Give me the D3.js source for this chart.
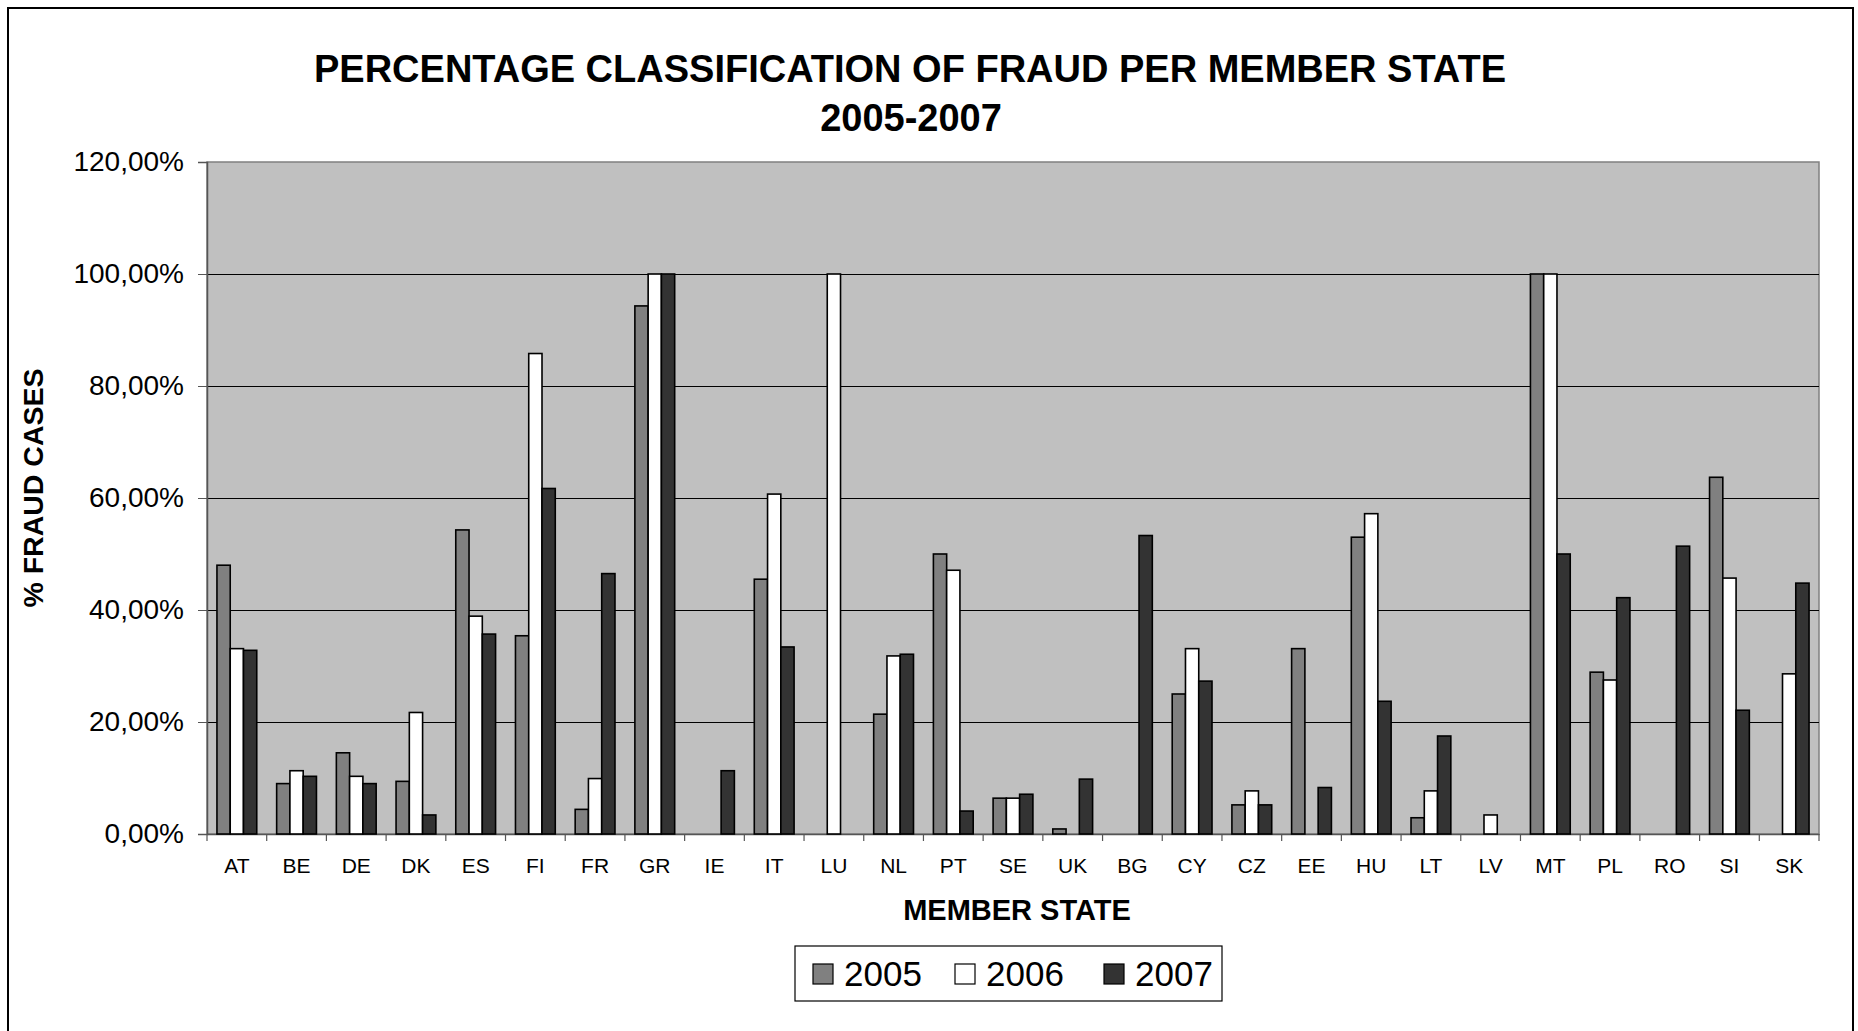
<!DOCTYPE html>
<html>
<head>
<meta charset="utf-8">
<script src="https://cdn.jsdelivr.net/npm/d3@7"></script>
<style>
  html, body { margin: 0; padding: 0; background: #ffffff; }
  svg { display: block; font-family: "Liberation Sans", Arial, sans-serif; }
</style>
</head>
<body>
<svg id="chart" width="1858" height="1031"></svg>
<script>
// ---- data ----
const categories = ["AT","BE","DE","DK","ES","FI","FR","GR","IE","IT","LU","NL","PT","SE","UK","BG","CY","CZ","EE","HU","LT","LV","MT","PL","RO","SI","SK"];
const seriesNames = ["2005","2006","2007"];
const values2005 = [48.0, 9.0, 14.5, 9.4, 54.3, 35.4, 4.4, 94.3, 0, 45.5, 0, 21.4, 50.0, 6.4, 0.9, 0, 25.0, 5.2, 33.1, 53.0, 2.9, 0, 100, 28.9, 0, 63.7, 0];
const values2006 = [33.1, 11.3, 10.3, 21.7, 38.9, 85.8, 9.9, 100, 0, 60.7, 100, 31.8, 47.1, 6.4, 0, 0, 33.1, 7.7, 0, 57.2, 7.7, 3.4, 100, 27.5, 0, 45.7, 28.6];
const values2007 = [32.8, 10.3, 9.0, 3.4, 35.7, 61.7, 46.5, 100, 11.3, 33.4, 0, 32.1, 4.1, 7.1, 9.8, 53.3, 27.3, 5.2, 8.3, 23.7, 17.5, 0, 50.0, 42.2, 51.4, 22.1, 44.8];
const yTicks = [0, 20, 40, 60, 80, 100, 120];
const seriesColors = ["#808080", "#ffffff", "#333333"];
const titleLines = ["PERCENTAGE CLASSIFICATION OF FRAUD PER MEMBER STATE", "2005-2007"];
const yTitle = "% FRAUD CASES";
const xTitle = "MEMBER STATE";

// ---- build ----
const series = [values2005, values2006, values2007];
const rows = categories.map((c, i) => ({ cat: c, vals: series.map((s, j) => ({ key: seriesNames[j], idx: j, v: s[i] })) }));

const svg = d3.select("#chart");
const plot = { left: 207, right: 1819, top: 162, bottom: 834 };

// outer border
svg.append("rect").attr("x", 8).attr("y", 8).attr("width", 1845).attr("height", 1040)
  .attr("fill", "none").attr("stroke", "#000").attr("stroke-width", 2);

const x = d3.scaleBand().domain(categories).range([plot.left, plot.right]).paddingInner(0).paddingOuter(0);
const xs = d3.scaleBand().domain(seriesNames).range([0, x.bandwidth()]).paddingInner(0).paddingOuter(0.75);
const y = d3.scaleLinear().domain([0, 120]).range([plot.bottom, plot.top]);

const locale = d3.formatLocale({ decimal: ",", thousands: ".", grouping: [3], currency: ["", "€"] });
const fmt = locale.format(".2f");

// plot background
svg.append("rect").attr("x", plot.left).attr("y", plot.top)
  .attr("width", plot.right - plot.left).attr("height", plot.bottom - plot.top)
  .attr("fill", "#c0c0c0").attr("stroke", "#808080").attr("stroke-width", 1.5);

// gridlines
svg.append("g").selectAll("line").data(yTicks.filter(t => t > 0 && t < 120)).join("line")
  .attr("x1", plot.left).attr("x2", plot.right)
  .attr("y1", d => Math.round(y(d)) + 0.5).attr("y2", d => Math.round(y(d)) + 0.5)
  .attr("stroke", "#000").attr("stroke-width", 1);

// y axis
const yAxis = d3.axisLeft(y).tickValues(yTicks).tickSize(9).tickPadding(14).tickFormat(d => fmt(d) + "%");
const gy = svg.append("g").attr("transform", `translate(${plot.left},0)`).call(yAxis);
gy.select(".domain").attr("stroke", "#555").attr("stroke-width", 1.5);
gy.selectAll(".tick line").attr("stroke", "#555");
gy.selectAll("text").attr("font-size", 28).attr("fill", "#000").attr("font-family", "Liberation Sans, Arial, sans-serif");

// x axis
const xAxis = d3.axisBottom(x).tickSize(0).tickPadding(24);
const gx = svg.append("g").attr("transform", `translate(0,${plot.bottom})`).call(xAxis);
gx.select(".domain").attr("stroke", "#555").attr("stroke-width", 1.5);
gx.selectAll("text").attr("font-size", 21).attr("fill", "#000").attr("font-family", "Liberation Sans, Arial, sans-serif");
// category boundary ticks
svg.append("g").selectAll("line").data(categories.concat(["__end"])).join("line")
  .attr("x1", (d, i) => plot.left + i * x.step()).attr("x2", (d, i) => plot.left + i * x.step())
  .attr("y1", plot.bottom).attr("y2", plot.bottom + 7)
  .attr("stroke", "#555").attr("stroke-width", 1.2);

// bars
const groups = svg.append("g").selectAll("g").data(rows).join("g")
  .attr("transform", d => `translate(${x(d.cat)},0)`);
groups.selectAll("rect").data(d => d.vals.filter(v => v.v > 0)).join("rect")
  .attr("x", d => xs(d.key))
  .attr("width", xs.bandwidth())
  .attr("y", d => y(d.v))
  .attr("height", d => y(0) - y(d.v))
  .attr("fill", d => seriesColors[d.idx])
  .attr("stroke", "#000").attr("stroke-width", 1.6);

// titles
const title = svg.append("text").attr("text-anchor", "middle").attr("font-weight", "bold")
  .attr("font-size", 38).attr("fill", "#000");
title.append("tspan").attr("x", 910).attr("y", 82).text(titleLines[0]);
title.append("tspan").attr("x", 911).attr("y", 131).text(titleLines[1]);

svg.append("text").attr("transform", `translate(43,488) rotate(-90)`)
  .attr("text-anchor", "middle").attr("font-weight", "bold").attr("font-size", 28.5).text(yTitle);

svg.append("text").attr("x", 1017).attr("y", 920).attr("text-anchor", "middle")
  .attr("font-weight", "bold").attr("font-size", 29).text(xTitle);

// legend
const legend = svg.append("g");
legend.append("rect").attr("x", 795).attr("y", 946).attr("width", 427).attr("height", 55)
  .attr("fill", "#fff").attr("stroke", "#000").attr("stroke-width", 1.2);
const legX = [813, 955, 1104];
const li = legend.selectAll("g.item").data(seriesNames).join("g").attr("class", "item")
  .attr("transform", (d, i) => `translate(${legX[i]},964)`);
li.append("rect").attr("width", 20).attr("height", 20)
  .attr("fill", (d, i) => seriesColors[i]).attr("stroke", "#000").attr("stroke-width", 1.2);
li.append("text").attr("x", 31).attr("y", 22).attr("font-size", 35).attr("fill", "#000").text(d => d);
</script>
</body>
</html>
